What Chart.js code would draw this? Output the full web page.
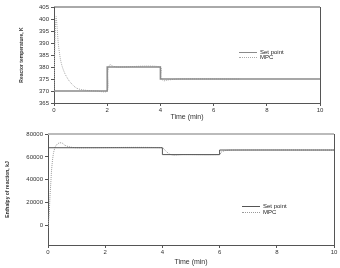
<!DOCTYPE html>
<html>
<head>
<meta charset="utf-8">
<script src="https://cdn.jsdelivr.net/npm/chart.js@4.4.0/dist/chart.umd.min.js"></script>
<style>
  body { margin: 0; background: #fff; width: 340px; height: 268px; overflow: hidden; position: relative; font-family: "Liberation Sans", Arial, sans-serif; }
  .box { position: absolute; left: 0; width: 340px; }
  .leg { position: absolute; font-size: 6px; color: #222; line-height: 6px; }
  .leg span { display: inline-block; width: 18px; vertical-align: middle; margin-right: 3px; }
</style>
</head>
<body>
<div class="box" style="top:0;height:125px"><canvas id="tempChart" width="340" height="125"></canvas></div>
<div class="box" style="top:125px;height:143px"><canvas id="heatChart" width="340" height="143"></canvas></div>

<div class="leg" style="left:239px;top:49px"><span style="border-top:1.5px solid #8a8a8a"></span>Set point</div>
<div class="leg" style="left:239px;top:54px"><span style="border-top:1px dotted #aaa"></span>MPC</div>
<div class="leg" style="left:242px;top:203px"><span style="border-top:1px solid #555"></span>Set point</div>
<div class="leg" style="left:242px;top:209px"><span style="border-top:1px dotted #999"></span>MPC</div>

<script>
// أزمنة المحور الأفقي (دقيقة)
const xTicks = [0, 2, 4, 6, 8, 10];

// الرسم العلوي: درجة الحرارة
const tempTicks = [365, 370, 375, 380, 385, 390, 395, 400, 405];
const tempSetTime = [0, 2, 4, 10];
const tempSetValue = [370, 380, 375, 375];
const tempMpcTime = [0, 0.04, 0.08, 0.12, 0.16, 0.23, 0.3, 0.4, 0.48, 0.6, 0.85, 1.2, 1.6, 2.0, 2.03, 2.1, 2.2, 2.4, 4.0, 4.03, 4.1, 4.3, 4.7, 7.0];
const tempMpcValue = [370, 392, 401, 396, 390, 384, 380.5, 377.5, 375.8, 373.8, 371.2, 370.3, 370, 370, 378, 381, 380.4, 380, 380, 376, 374.3, 374.6, 375, 375];

// الرسم السفلي
const heatTicks = [0, 20000, 40000, 60000, 80000];
const heatSetTime = [0, 4, 6, 10];
const heatSetValue = [68000, 62000, 66000, 66000];
const heatMpcTime = [0, 0.04, 0.07, 0.1, 0.13, 0.19, 0.26, 0.34, 0.42, 0.5, 0.6, 0.8, 1.0, 1.4, 4.0, 4.1, 4.25, 4.4, 4.7, 6.0, 6.05, 6.2, 6.5, 10];
const heatMpcValue = [-2000, 10000, 25800, 38000, 50000, 63000, 69000, 71500, 72300, 72000, 70000, 68500, 68000, 68000, 68000, 65500, 62500, 61500, 62000, 62000, 64000, 65500, 66000, 66000];

function toPoints(xs, ys) {
    return xs.map((x, i) => ({ x: x, y: ys[i] }));
}

// إطار حول منطقة الرسم
const frame = {
    id: 'frame',
    afterDraw(chart, args, opts) {
        const a = chart.chartArea, c = chart.ctx;
        c.save();
        c.strokeStyle = opts.topColor; c.lineWidth = opts.topWidth;
        c.beginPath(); c.moveTo(a.left, a.top); c.lineTo(a.right, a.top); c.stroke();
        c.strokeStyle = '#555'; c.lineWidth = 1;
        c.beginPath(); c.moveTo(a.right + 0.5, a.top); c.lineTo(a.right + 0.5, a.bottom); c.stroke();
        c.restore();
    }
};

function makeChart(id, cfg) {
    const tickFont = { family: '"Liberation Sans", Arial, sans-serif', size: 6 };
    return new Chart(document.getElementById(id), {
        type: 'line',
        data: {
            datasets: [
                { label: 'Set point', data: toPoints(cfg.setTime, cfg.setValue), stepped: 'before', borderColor: cfg.setColor, borderWidth: cfg.setWidth, pointRadius: 0, fill: false },
                { label: 'MPC', data: toPoints(cfg.mpcTime, cfg.mpcValue), borderColor: cfg.mpcColor, borderWidth: 1, borderDash: [1, 1], pointRadius: 0, tension: 0.3, fill: false }
            ]
        },
        options: {
            responsive: false,
            animation: false,
            layout: { padding: { top: cfg.top, right: cfg.right, left: 0, bottom: 0 } },
            plugins: {
                legend: { display: false },
                tooltip: { enabled: false },
                frame: { topColor: cfg.topColor, topWidth: cfg.topWidth }
            },
            scales: {
                x: {
                    type: 'linear', min: 0, max: 10,
                    afterBuildTicks: s => { s.ticks = xTicks.map(v => ({ value: v })); },
                    afterFit: s => { s.height = cfg.xHeight; },
                    grid: { drawOnChartArea: false, tickLength: 3, color: '#555' },
                    border: { color: '#555', width: 1 },
                    ticks: { font: tickFont, color: '#333', padding: 1, maxRotation: 0, callback: v => String(v) },
                    title: { display: true, text: 'Time (min)', font: { family: '"Liberation Sans", Arial, sans-serif', size: 7 }, color: '#333', padding: { top: 0, bottom: cfg.titlePad } }
                },
                y: {
                    min: cfg.yMin, max: cfg.yMax,
                    afterBuildTicks: s => { s.ticks = cfg.yTicks.map(v => ({ value: v })); },
                    afterFit: s => { s.width = cfg.left; },
                    grid: { drawOnChartArea: false, tickLength: 3, color: '#555' },
                    border: { color: '#555', width: 1 },
                    ticks: { font: tickFont, color: '#333', padding: 2, callback: v => String(v) },
                    title: { display: true, text: cfg.yTitle, font: { family: '"Liberation Sans", Arial, sans-serif', size: 5, weight: 'bold' }, color: '#333', padding: { top: cfg.yTitlePad, bottom: 0 } }
                }
            }
        },
        plugins: [frame]
    });
}

makeChart('tempChart', {
    setTime: tempSetTime, setValue: tempSetValue, setColor: '#8a8a8a', setWidth: 1.5,
    mpcTime: tempMpcTime, mpcValue: tempMpcValue, mpcColor: '#aaa',
    yMin: 365, yMax: 405, yTicks: tempTicks,
    top: 7, right: 20, left: 54, xHeight: 22, titlePad: 4,
    topColor: '#555', topWidth: 1, yTitlePad: 19,
    yTitle: 'Reactor temperature, K'
});

makeChart('heatChart', {
    setTime: heatSetTime, setValue: heatSetValue, setColor: '#555', setWidth: 1,
    mpcTime: heatMpcTime, mpcValue: heatMpcValue, mpcColor: '#999',
    yMin: -17000, yMax: 80000, yTicks: heatTicks,
    top: 9, right: 6, left: 48, xHeight: 23, titlePad: 2,
    topColor: '#bbb', topWidth: 2, yTitlePad: 5,
    yTitle: 'Enthalpy of reaction, kJ'
});
</script>
</body>
</html>
